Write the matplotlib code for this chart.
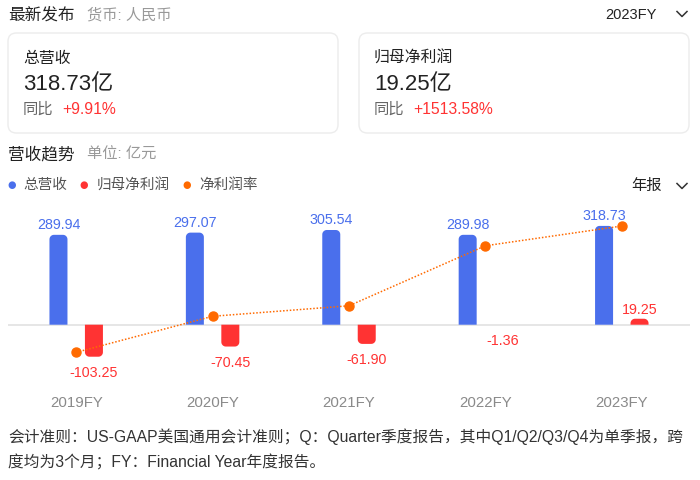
import matplotlib
matplotlib.use("Agg")
import matplotlib.pyplot as plt
from matplotlib.patches import FancyBboxPatch, Polygon
from matplotlib.lines import Line2D
import numpy as np

plt.rcParams['font.family'] = ['Liberation Sans', 'Noto Sans CJK SC', 'DejaVu Sans']

# ==========================================
# Data
# ==========================================

years = ["2019FY", "2020FY", "2021FY", "2022FY", "2023FY"]
revenue = [289.94, 297.07, 305.54, 289.98, 318.73]
net_profit = [-103.25, -70.45, -61.90, -1.36, 19.25]
net_margin = [-35.61, -23.72, -20.26, -0.47, 6.04]   # %

latest_revenue = "318.73亿"
latest_revenue_yoy = "+9.91%"
latest_profit = "19.25亿"
latest_profit_yoy = "+1513.58%"

footnote = ["会计准则：US-GAAP美国通用会计准则；Q：Quarter季度报告，其中Q1/Q2/Q3/Q4为单季报，跨",
            "度均为3个月；FY：Financial Year年度报告。"]

BLUE = "#4a6fec"
RED = "#ff3333"
ORANGE = "#ff6a00"
DARK = "#222222"
GRAY = "#999999"

W, H = 700, 481
fig = plt.figure(figsize=(7, 4.81), dpi=100)
fig.patch.set_facecolor("white")

# helper: pixel coords (from top-left) -> figure fraction
def fx(x):
    return x / W

def fy(y):
    return 1 - y / H

def chevron(cx, cy):
    fig.add_artist(Line2D([fx(cx - 5), fx(cx), fx(cx + 5)],
                          [fy(cy - 2.5), fy(cy + 2.5), fy(cy - 2.5)],
                          transform=fig.transFigure, color="#333333", linewidth=1.1))

# ==========================================
# Header and cards
# ==========================================

fig.text(fx(8), fy(15), "最新发布", fontsize=12, color=DARK, va="center")
fig.text(fx(87), fy(15), "货币: 人民币", fontsize=11, color=GRAY, va="center")
fig.text(fx(657), fy(15), "2023FY", fontsize=10.5, color=DARK, va="center", ha="right")
chevron(682, 15)

cards = [(8, 338, "总营收", latest_revenue, latest_revenue_yoy),
         (359, 689, "归母净利润", latest_profit, latest_profit_yoy)]
for x0, x1, title, value, yoy in cards:
    card = FancyBboxPatch((fx(x0), fy(134)), fx(x1 - x0), (134 - 34) / H,
                          boxstyle="round,pad=0,rounding_size=0.012",
                          transform=fig.transFigure, facecolor="white",
                          edgecolor="#ececec", linewidth=1.0,
                          mutation_aspect=W / H)
    fig.add_artist(card)
    fig.text(fx(x0 + 15), fy(58), title, fontsize=11.4, color=DARK, va="center")
    fig.text(fx(x0 + 15), fy(84), value, fontsize=16, color=DARK, va="center")
    fig.text(fx(x0 + 15), fy(110), "同比", fontsize=11, color="#666666", va="center")
    fig.text(fx(x0 + 54), fy(110), yoy, fontsize=11.3, color=RED, va="center")

fig.text(fx(8), fy(155), "营收趋势", fontsize=12, color=DARK, va="center")
fig.text(fx(87), fy(155), "单位: 亿元", fontsize=11, color=GRAY, va="center")

legend_items = [(12, 23, BLUE, "总营收"), (84, 97, RED, "归母净利润"),
                (187, 199, ORANGE, "净利润率")]
for dx, tx, col, lab in legend_items:
    fig.text(fx(dx), fy(185), "●", fontsize=7, color=col, va="center", ha="center",
             family="DejaVu Sans")
    fig.text(fx(tx), fy(185), lab, fontsize=10.5, color="#555555", va="center")

fig.text(fx(662), fy(186), "年报", fontsize=11, color=DARK, va="center", ha="right")
chevron(682, 187)

# ==========================================
# Chart
# ==========================================

ax_l, ax_r, ax_t, ax_b = 8, 690, 205, 390
ax = fig.add_axes([fx(ax_l), fy(ax_b), (ax_r - ax_l) / W, (ax_b - ax_t) / H])
ax2 = ax.twinx()

ymin, ymax = -207.4, 389.4
ax.set_xlim(-0.5, len(years) - 0.5)
ax.set_ylim(ymin, ymax)
ax2.set_ylim(-47.7, 13.3)

for a in (ax, ax2):
    for s in a.spines.values():
        s.set_visible(False)
    a.set_yticks([])
ax.set_xticks([])
ax.axhline(0, color="#e2e2e2", linewidth=1.2, zorder=1)

# pixels per data unit, used to keep the bar corners round
px_x = (ax_r - ax_l) / len(years)
px_y = (ax_b - ax_t) / (ymax - ymin)

bw = 0.132
off = 0.13
r_px = 4.5


def round_bar(x, v, color):
    # bar from 0 to v, end away from the zero line rounded
    h_px = abs(v) * px_y
    r = min(r_px, h_px, bw * px_x / 2)
    if r < 1:
        ax.bar(x, v, bw, color=color, zorder=3, linewidth=0)
        return
    s = 1 if v >= 0 else -1
    rx = r / px_x
    ry = r / px_y
    x0, x1 = x - bw / 2, x + bw / 2
    t = np.linspace(0, np.pi / 2, 10)
    pts = [(x0, 0)]
    for a in t:
        pts.append((x0 + rx - rx * np.cos(a), v - s * ry + s * ry * np.sin(a)))
    for a in t[::-1]:
        pts.append((x1 - rx + rx * np.cos(a), v - s * ry + s * ry * np.sin(a)))
    pts.append((x1, 0))
    ax.add_patch(Polygon(pts, closed=True, facecolor=color, edgecolor="none", zorder=3))


for i, (rv, npf) in enumerate(zip(revenue, net_profit)):
    round_bar(i - off, rv, BLUE)
    ax.text(i - off, rv + 11 / px_y, f"{rv:.2f}", ha="center", va="center",
            fontsize=10.3, color=BLUE)
    if abs(npf) < 5:
        ax.bar(i + off, npf, bw, color="#ffc4c4", zorder=3, linewidth=0)
    else:
        round_bar(i + off, npf, RED)
    if npf >= 0:
        ax.text(i + off, npf + 10 / px_y, f"{npf:.2f}", ha="center", va="center",
                fontsize=10.3, color=RED)
    else:
        ax.text(i + off, npf - 15 / px_y, f"{npf:.2f}", ha="center", va="center",
                fontsize=10.3, color=RED)
    ax.text(i, -77 / px_y, years[i], ha="center", va="center", fontsize=10.8,
            color="#8a8a8a")

ax2.plot(range(len(years)), net_margin, color=ORANGE, linestyle=(0, (1, 1.2)),
         linewidth=1.1, marker="o", markersize=6.5, zorder=5)

# ==========================================
# Footnote
# ==========================================

fig.text(fx(8), fy(437), footnote[0], fontsize=11.3, color="#333333", va="center")
fig.text(fx(8), fy(462), footnote[1], fontsize=11.3, color="#333333", va="center")

fig.savefig("out.png", dpi=100, facecolor="white")
